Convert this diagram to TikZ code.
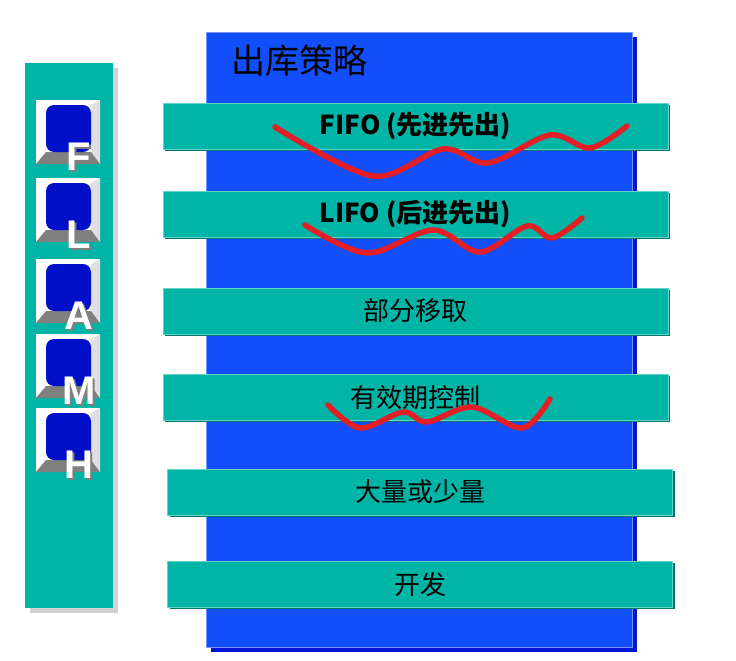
\documentclass[tikz,border=0pt]{standalone}
\usepackage{fontspec}
\setmainfont{Liberation Sans}
\newfontfamily\cjk{Noto Sans CJK SC}
\usepackage{tikz}
\usetikzlibrary{shadows}
\definecolor{panelblue}{RGB}{18, 78, 250}
\definecolor{paneldark}{RGB}{0, 20, 215}
\definecolor{barteal}{RGB}{0, 181, 165}
\definecolor{bardark}{RGB}{0, 118, 108}
\definecolor{keyblue}{RGB}{0, 16, 200}
\definecolor{markred}{RGB}{228, 30, 36}
\newcommand{\keyglyph}[1]{\makebox[0pt][l]{\kern2pt\raisebox{-2pt}{\color{gray}#1}}#1}

\begin{document}
\begin{tikzpicture}[x=1pt, y=-1pt,
    bar/.style={fill=barteal, draw=barteal!60!white, line width=0.5pt,
        minimum width=505pt, minimum height=46pt, inner sep=0pt,
        drop shadow={shadow xshift=2pt, shadow yshift=-1.5pt, fill=bardark, opacity=1},
        font=\fontsize{26}{26}\selectfont\cjk},
    keyletter/.style={font=\fontsize{40}{40}\selectfont\bfseries, text=white, inner sep=0pt},
    redmark/.style={markred, line width=5.5pt, line cap=round, line join=round}]
    \useasboundingbox (0,0) rectangle (736,661);

    % Blue panel with dark edge
    \node[fill=panelblue, draw=panelblue!60!white, line width=0.5pt, inner sep=0pt,
        minimum width=426pt, minimum height=615pt,
        drop shadow={shadow xshift=5pt, shadow yshift=-5pt, fill=paneldark, opacity=1}]
        (panel) at (419,339.5) {};
    \node[font=\fontsize{34}{34}\selectfont\cjk, inner sep=0pt] (title) at (299,61) {出库策略};

    % Left bar with keys
    \node[fill=barteal, inner sep=0pt, minimum width=88pt, minimum height=545pt,
        drop shadow={shadow xshift=5pt, shadow yshift=-5pt, fill=gray!35, opacity=1}]
        (side) at (69,335.5) {};
    \foreach \y/\ltr [count=\i] in {100/F, 178/L, 259/A, 334/M, 408/H} {
        \fill[white] (36,\y) rectangle (100,\y+64);
        \fill[gray!25] (100,\y) -- (100,\y+64) -- (91,\y+52) -- (91,\y+5) -- cycle;
        \fill[gray] (36,\y+64) -- (100,\y+64) -- (91,\y+52) -- (46,\y+52) -- cycle;
        \fill[keyblue, rounded corners=8pt] (46,\y+5) rectangle (91,\y+52);
        \node[keyletter] (key\i) at (79,\y+58) {\keyglyph{\ltr}};
    }

    % Strategy bars
    \node[bar] (fifo) at (415.5,126.5) {\bfseries FIFO ({\cjk 先进先出})};
    \node[bar] (lifo) at (415.5,214.5) {\bfseries LIFO ({\cjk 后进先出})};
    \node[bar] (part) at (415.5,311) {部分移取};
    \node[bar] (expiry) at (415.5,397.5) {有效期控制};
    \node[bar] (bulk) at (420,492) {大量或少量};
    \node[bar] (dev) at (420,584.5) {开发};

    % Red marks
    \draw[redmark] plot[smooth, tension=0.55] coordinates {(275,127) (373,176) (443,149) (488,163) (550,135) (590,148) (627,126)};
    \draw[redmark] plot[smooth, tension=0.55] coordinates {(305,225) (367,253) (433,230) (480,252) (527,226) (552,238) (582,218)};
    \draw[redmark] plot[smooth, tension=0.55] coordinates {(328,405) (360,428) (403,412) (427,422) (472,407) (522,428) (550,399)};
\end{tikzpicture}
\end{document}
